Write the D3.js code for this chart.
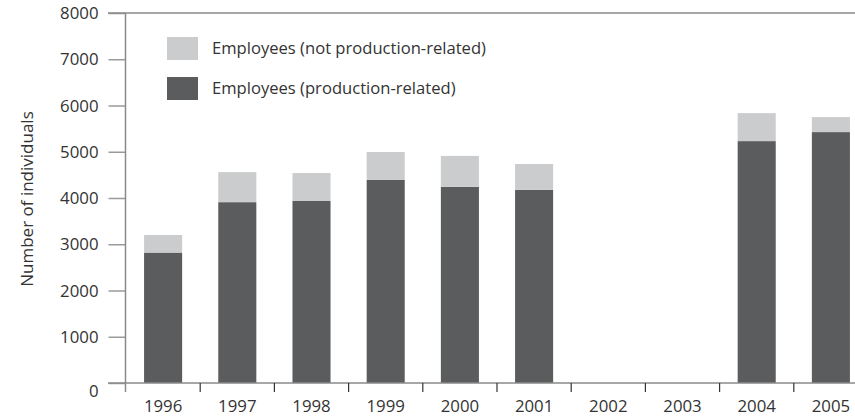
<!DOCTYPE html>
<html>
<head>
<meta charset="utf-8">
<script src="https://cdn.jsdelivr.net/npm/d3@7"></script>
<style>
html,body{margin:0;padding:0;background:#fff;}
svg{display:block;}
text{font-family:"Open Sans",sans-serif;fill:#333;}
</style>
</head>
<body>
<svg id="chart" width="855" height="416"></svg>
<script>
const years = ["1996","1997","1998","1999","2000","2001","2002","2003","2004","2005"];
const production = [2820, 3910, 3935, 4390, 4240, 4175, null, null, 5230, 5425];
const nonProduction = [380, 650, 605, 605, 670, 560, null, null, 605, 325];
const yTicks = [0,1000,2000,3000,4000,5000,6000,7000,8000];
const seriesNames = ["Employees (not production-related)", "Employees (production-related)"];
const colors = ["#cbcccd", "#5b5c5e"];

(function(){
const svg = d3.select("#chart");
const leftX = 126, topY = 13, bottomY = 383;
const stepW = 74.2;
const fs = 16.8;
const x = d3.scaleBand().domain(years).range([leftX, leftX + stepW*years.length]).paddingInner(0.487).paddingOuter(0.2435);
const y = d3.scaleLinear().domain([0, 8000]).range([bottomY, topY]);

// bars
const g = svg.append("g");
years.forEach((yr, i) => {
  if (production[i] == null) return;
  g.append("rect").attr("x", x(yr)).attr("width", x.bandwidth())
    .attr("y", y(production[i])).attr("height", y(0) - y(production[i])).attr("fill", colors[1]);
  const tot = production[i] + nonProduction[i];
  g.append("rect").attr("x", x(yr)).attr("width", x.bandwidth())
    .attr("y", y(tot)).attr("height", y(production[i]) - y(tot)).attr("fill", colors[0]);
});

// y axis ticks & labels
const yAxis = d3.axisLeft(y).tickValues(yTicks).tickSize(17).tickPadding(10).tickFormat(d3.format("d"));
const ya = svg.append("g").attr("transform", `translate(${leftX - 0.5},0)`).call(yAxis);
ya.select(".domain").remove();
ya.selectAll(".tick line").attr("stroke", "#9a9a9a").attr("stroke-width", 1.5);
ya.selectAll(".tick text").attr("font-size", fs).attr("fill", "#333").attr("font-family", "Open Sans").attr("dy", "0.34em");
ya.selectAll(".tick").filter(d => d === 0).select("text").attr("dy", "0.78em");

// frame lines
svg.append("line").attr("x1", 108).attr("x2", 855).attr("y1", topY).attr("y2", topY).attr("stroke", "#8a8a8a").attr("stroke-width", 1.5);
svg.append("line").attr("x1", 108).attr("x2", 855).attr("y1", bottomY).attr("y2", bottomY).attr("stroke", "#8a8a8a").attr("stroke-width", 1.5);
svg.append("line").attr("x1", leftX - 0.5).attr("x2", leftX - 0.5).attr("y1", topY).attr("y2", bottomY + 9).attr("stroke", "#8a8a8a").attr("stroke-width", 1.5);

// x axis ticks at band boundaries
const bounds = years.map(yr => x(yr) + x.bandwidth()/2 - x.step()/2).slice(1);
svg.append("g").selectAll("line").data(bounds).join("line")
  .attr("x1", d => d).attr("x2", d => d).attr("y1", bottomY).attr("y2", bottomY + 9)
  .attr("stroke", "#333").attr("stroke-width", 1.2);
svg.append("g").selectAll("text").data(years).join("text")
  .attr("x", d => x(d) + x.bandwidth()/2).attr("y", 412)
  .attr("text-anchor", "middle").attr("font-size", fs).text(d => d);

// y title
svg.append("text").attr("transform", "translate(27,199) rotate(-90)").attr("text-anchor", "middle")
  .attr("dy", "0.35em").attr("font-size", 17).text("Number of individuals");

// legend
const leg = svg.append("g");
seriesNames.forEach((n, i) => {
  leg.append("rect").attr("x", 167).attr("y", 37 + i*40).attr("width", 31).attr("height", 23).attr("fill", colors[i]);
  leg.append("text").attr("x", 212).attr("y", 48.5 + i*40).attr("dy", "0.35em").attr("font-size", 16.6).text(n);
});
})();
</script>
</body>
</html>
